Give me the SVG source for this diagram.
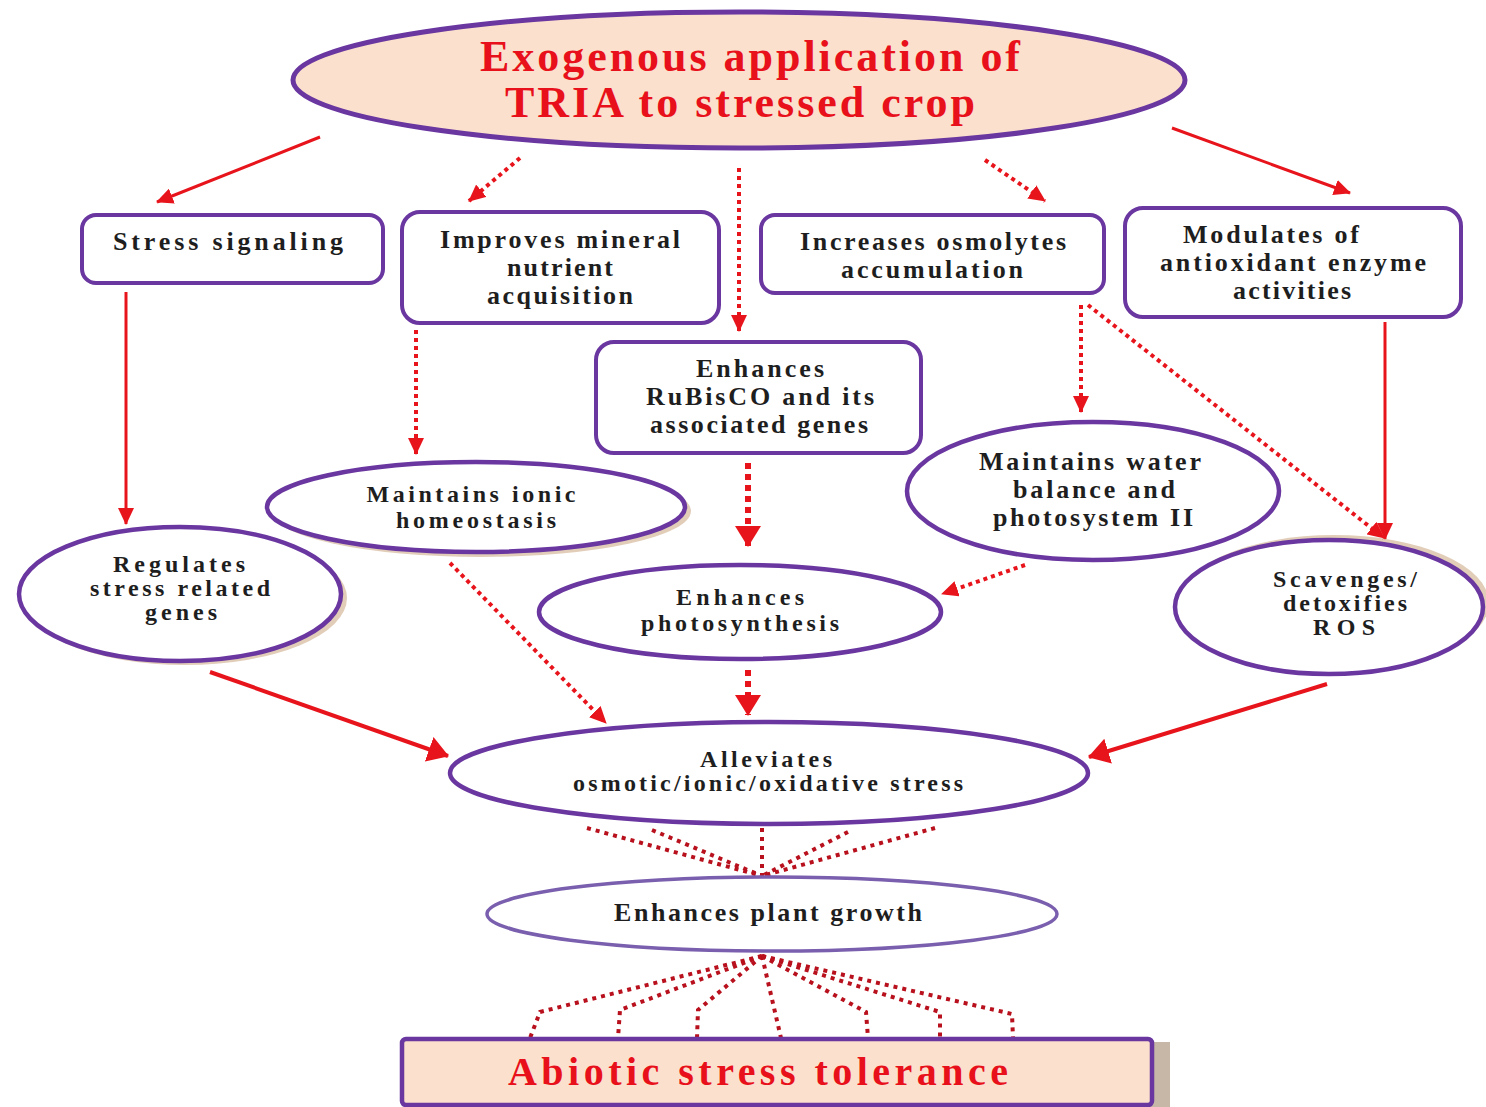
<svg xmlns="http://www.w3.org/2000/svg" width="1486" height="1107" viewBox="0 0 1486 1107">
<defs>
<style>
.bx{fill:#ffffff;stroke:#6a36a0;stroke-width:4}
.el{fill:#ffffff;stroke:#6a36a0;stroke-width:4.5}
.sh{fill:#c9a47e;opacity:0.55}
.t{font-family:"Liberation Serif","Times New Roman",serif;font-weight:bold;font-size:26px;fill:#1e1e1e;text-anchor:middle}
.ts{font-size:24px}
.tr{font-family:"Liberation Serif","Times New Roman",serif;font-weight:bold;fill:#e8101a;text-anchor:middle}
.sol{fill:none;stroke:#e8141c;stroke-width:3}
.solb{fill:none;stroke:#e8141c;stroke-width:4}
.dot{fill:none;stroke:#e8141c;stroke-width:4;stroke-dasharray:4 4}
.dotb{fill:none;stroke:#e8141c;stroke-width:6;stroke-dasharray:6 5}
.dr{fill:none;stroke:#b8101c;stroke-width:4;stroke-dasharray:4 5}
</style>
<marker id="ah" markerUnits="userSpaceOnUse" markerWidth="18" markerHeight="16" refX="16" refY="8" orient="auto">
<path d="M0,0 L17,8 L0,16 Z" fill="#e8141c"/>
</marker>
<marker id="ahb" markerUnits="userSpaceOnUse" markerWidth="22" markerHeight="26" refX="20" refY="13" orient="auto">
<path d="M0,0 L21,13 L0,26 Z" fill="#e8141c"/>
</marker>
</defs>
<rect width="1486" height="1107" fill="#ffffff"/>

<g id="connectors">
<path class="sol" d="M320,137 L157,202" marker-end="url(#ah)"/>
<path class="dot" d="M520,158 L469,201" marker-end="url(#ah)"/>
<path class="dot" d="M739,168 L739,331" marker-end="url(#ah)"/>
<path class="dot" d="M985,160 L1045,201" marker-end="url(#ah)"/>
<path class="sol" d="M1172,128 L1350,193" marker-end="url(#ah)"/>
<path class="sol" d="M126,292 L126,524" marker-end="url(#ah)"/>
<path class="dot" d="M416,330 L416,454" marker-end="url(#ah)"/>
<path class="dotb" d="M748,463 L748,546" marker-end="url(#ahb)"/>
<path class="dot" d="M1081,305 L1081,412" marker-end="url(#ah)"/>
<path class="dot" d="M1088,305 L1384,538" marker-end="url(#ah)"/>
<path class="sol" d="M1385,322 L1385,539" marker-end="url(#ah)"/>
<path class="dot" d="M1025,565 L942,594" marker-end="url(#ah)"/>
<path class="dot" d="M450,563 L606,723" marker-end="url(#ah)"/>
<path class="dotb" d="M748,670 L748,715" marker-end="url(#ahb)"/>
<path class="solb" d="M210,672 L448,756" marker-end="url(#ahb)"/>
<path class="solb" d="M1327,684 L1089,757" marker-end="url(#ahb)"/>
<path class="dr" d="M587,828 L762,876"/>
<path class="dr" d="M652,830 L762,876"/>
<path class="dr" d="M762,828 L762,876"/>
<path class="dr" d="M848,832 L762,876"/>
<path class="dr" d="M935,828 L762,876"/>
<path class="dr" d="M762,956 L540,1012 L530,1038"/>
<path class="dr" d="M762,956 L620,1010 L618,1038"/>
<path class="dr" d="M762,956 L698,1010 L697,1038"/>
<path class="dr" d="M762,956 L781,1038"/>
<path class="dr" d="M762,956 L866,1012 L868,1038"/>
<path class="dr" d="M762,956 L940,1012 L940,1038"/>
<path class="dr" d="M762,956 L1012,1014 L1013,1038"/>
</g>

<g id="n-top">
<ellipse cx="739" cy="80" rx="446" ry="68" fill="#fbe1cd" stroke="#6a36a0" stroke-width="5"/>
<text class="tr" x="750" y="71" font-size="44" textLength="540" lengthAdjust="spacing">Exogenous application of</text>
<text class="tr" x="740" y="117" font-size="44" textLength="470" lengthAdjust="spacing">TRIA to stressed crop</text>
</g>

<g id="n-stress-signaling">
<rect class="bx" x="82" y="215" width="301" height="68" rx="14"/>
<text class="t" x="228" y="250" textLength="230" lengthAdjust="spacing">Stress signaling</text>
</g>

<g id="n-mineral">
<rect class="bx" x="402" y="212" width="317" height="111" rx="18"/>
<text class="t" x="560" y="248" textLength="240" lengthAdjust="spacing">Improves mineral</text>
<text class="t" x="560" y="276" textLength="106" lengthAdjust="spacing">nutrient</text>
<text class="t" x="560" y="304" textLength="146" lengthAdjust="spacing">acquisition</text>
</g>

<g id="n-osmolytes">
<rect class="bx" x="761" y="215" width="343" height="78" rx="14"/>
<text class="t" x="933" y="250" textLength="266" lengthAdjust="spacing">Increases osmolytes</text>
<text class="t" x="932" y="278" textLength="182" lengthAdjust="spacing">accumulation</text>
</g>

<g id="n-antioxidant">
<rect class="bx" x="1125" y="208" width="336" height="109" rx="18"/>
<text class="t" x="1271" y="243" textLength="176" lengthAdjust="spacing">Modulates of</text>
<text class="t" x="1293" y="271" textLength="266" lengthAdjust="spacing">antioxidant enzyme</text>
<text class="t" x="1292" y="299" textLength="118" lengthAdjust="spacing">activities</text>
</g>

<g id="n-rubisco">
<rect class="bx" x="596" y="342" width="325" height="111" rx="18"/>
<text class="t" x="760" y="377" textLength="128" lengthAdjust="spacing">Enhances</text>
<text class="t" x="760" y="405" textLength="228" lengthAdjust="spacing">RuBisCO and its</text>
<text class="t" x="759" y="433" textLength="218" lengthAdjust="spacing">associated genes</text>
</g>

<g id="n-ionic">
<ellipse class="sh" cx="481" cy="511" rx="210" ry="46"/>
<ellipse class="el" cx="476" cy="507" rx="209" ry="45"/>
<text class="t ts" x="471" y="502" textLength="209" lengthAdjust="spacing">Maintains ionic</text>
<text class="t ts" x="476" y="528" textLength="160" lengthAdjust="spacing">homeostasis</text>
</g>

<g id="n-regulates">
<ellipse class="sh" cx="185" cy="598" rx="162" ry="67"/>
<ellipse class="el" cx="180" cy="594" rx="161" ry="67"/>
<text class="t ts" x="179" y="572" textLength="132" lengthAdjust="spacing">Regulates</text>
<text class="t ts" x="180" y="596" textLength="180" lengthAdjust="spacing">stress related</text>
<text class="t ts" x="181" y="620" textLength="72" lengthAdjust="spacing">genes</text>
</g>

<g id="n-water">
<ellipse class="el" cx="1093" cy="491" rx="186" ry="69"/>
<text class="t" x="1090" y="470" textLength="222" lengthAdjust="spacing">Maintains water</text>
<text class="t" x="1094" y="498" textLength="162" lengthAdjust="spacing">balance and</text>
<text class="t" x="1093" y="526" textLength="200" lengthAdjust="spacing">photosystem II</text>
</g>

<g id="n-photosynthesis">
<ellipse class="el" cx="740" cy="612" rx="201" ry="47"/>
<text class="t ts" x="740" y="605" textLength="128" lengthAdjust="spacing">Enhances</text>
<text class="t ts" x="740" y="631" textLength="198" lengthAdjust="spacing">photosynthesis</text>
</g>

<g id="n-ros">
<ellipse class="sh" cx="1334" cy="603" rx="155" ry="68"/>
<ellipse class="el" cx="1329" cy="607" rx="154" ry="67"/>
<text class="t ts" x="1345" y="587" textLength="144" lengthAdjust="spacing">Scavenges/</text>
<text class="t ts" x="1345" y="611" textLength="124" lengthAdjust="spacing">detoxifies</text>
<text class="t ts" x="1344" y="635" textLength="62" lengthAdjust="spacing">ROS</text>
</g>

<g id="n-alleviates">
<ellipse class="el" cx="769" cy="773" rx="319" ry="51"/>
<text class="t ts" x="766" y="767" textLength="132" lengthAdjust="spacing">Alleviates</text>
<text class="t ts" x="768" y="791" textLength="390" lengthAdjust="spacing">osmotic/ionic/oxidative stress</text>
</g>

<g id="n-growth">
<ellipse cx="772" cy="914" rx="285" ry="37" fill="#ffffff" stroke="#7a5fae" stroke-width="3.5"/>
<text class="t" x="768" y="921" textLength="308" lengthAdjust="spacing">Enhances plant growth</text>
</g>

<g id="n-tolerance">
<rect x="1150" y="1042" width="20" height="65" fill="#b9a591" opacity="0.8"/>
<rect x="402" y="1039" width="750" height="66" rx="4" fill="#fbe1cd" stroke="#6a36a0" stroke-width="4.5"/>
<text class="tr" x="758" y="1085" font-size="40" textLength="500" lengthAdjust="spacing">Abiotic stress tolerance</text>
</g>
</svg>
